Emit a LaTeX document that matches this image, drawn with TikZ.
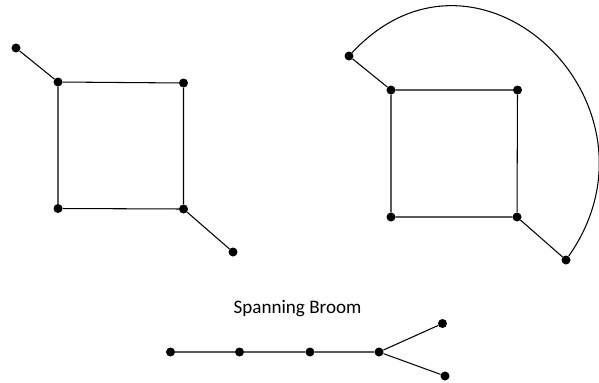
\documentclass[tikz,border=0pt]{standalone}
\usepackage{fontspec}
\setmainfont{Carlito}

\begin{document}
\begin{tikzpicture}[x = 0.03cm, y = 0.03cm,
	vertex/.style = {circle, fill = black, inner sep = 0pt, minimum size = 0.27cm},
	edge/.style = {line width = 0.9pt}]
	\useasboundingbox (0,0) rectangle (599,382);
	% left graph
	\node [vertex] (la) at (16,334) {};
	\node [vertex] (l1) at (58,300) {};
	\node [vertex] (l2) at (183.5,299) {};
	\node [vertex] (l3) at (183.5,173) {};
	\node [vertex] (l4) at (58,173.5) {};
	\node [vertex] (lb) at (233,130) {};
	\draw [edge] (la) -- (l1) -- (l2) -- (l3) -- (l4) -- (l1);
	\draw [edge] (l3) -- (lb);
	% right graph
	\node [vertex] (ra) at (349,326) {};
	\node [vertex] (r1) at (391,292) {};
	\node [vertex] (r2) at (517.5,292) {};
	\node [vertex] (r3) at (517,165) {};
	\node [vertex] (r4) at (391,165) {};
	\node [vertex] (rb) at (566,122) {};
	\draw [edge] (ra) -- (r1) -- (r2) -- (r3) -- (r4) -- (r1);
	\draw [edge] (r3) -- (rb);
	\draw [edge] (ra) to [out = 47, in = 55, looseness = 1.6] (rb);
	% broom
	\node (title) at (297.5,73) {\fontsize{16.3}{19}\selectfont Spanning Broom};
	\node [vertex] (b1) at (170.5,30) {};
	\node [vertex] (b2) at (239.5,30) {};
	\node [vertex] (b3) at (310,30) {};
	\node [vertex] (b4) at (379,30) {};
	\node [vertex] (b5) at (442.5,58.5) {};
	\node [vertex] (b6) at (445,6) {};
	\draw [edge] (b1) -- (b2) -- (b3) -- (b4) -- (b5);
	\draw [edge] (b4) -- (b6);
\end{tikzpicture}
\end{document}
